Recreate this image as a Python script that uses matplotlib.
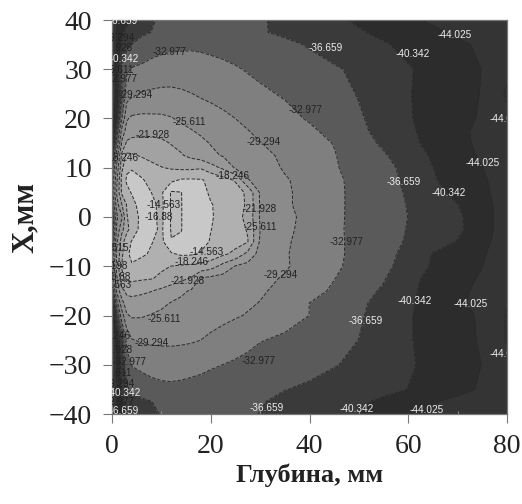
import matplotlib
matplotlib.use("Agg")
import matplotlib.pyplot as plt
import numpy as np

depth = [0,1,2,3,4,6,8,10,12,14,16,18,20,22.5,25,27.5,30,35,40,45,50,55,60,65,70,75,80]
pos = [40,37.5,35,30,25,20,17.5,15,12.5,10,7.5,5,2.5,0,-2.5,-5,-7.5,-10,-12.5,-15,-17.5,-20,-25,-30,-35,-37.5,-40]
temps = [
[-46,-44,-42,-41,-40,-38,-37,-36.2,-35.8,-35.5,-35.3,-35.2,-35.2,-35.3,-35.6,-36,-36.3,-37.5,-38.6,-39.6,-40.9,-42,-43.2,-44.6,-45.5,-46.3,-47],
[-46,-44,-41,-39.5,-38.5,-37.3,-36.6,-35.8,-35.2,-34.8,-34.6,-34.5,-34.6,-34.9,-35.3,-35.9,-36.4,-37.2,-38.2,-39.1,-40,-41.1,-42.2,-43.4,-44.6,-45.8,-46.7],
[-46,-44,-40,-37.5,-36.6,-35.4,-34.5,-34,-33.7,-33.6,-33.5,-33.6,-33.8,-34,-34.4,-34.8,-35.2,-36,-36.9,-38.1,-39.1,-40,-41.2,-42.4,-43.4,-44.6,-46],
[-47,-42,-36,-33.5,-32.7,-32.3,-31.8,-31.5,-31.3,-31.3,-31.4,-31.6,-31.9,-32.3,-32.7,-33.2,-33.7,-34.7,-35.6,-36.3,-37.3,-38.7,-40.1,-41.3,-42.6,-44.1,-46.7],
[-47,-43,-37,-31,-30,-29,-28.7,-28.5,-28.5,-28.8,-29.2,-29.7,-30.2,-30.9,-31.4,-31.9,-32.4,-33.3,-34.2,-35.2,-36.9,-38.5,-40.2,-41.3,-42.7,-44.2,-48.3],
[-46,-41,-33,-26,-25,-24.8,-24.9,-25,-25.4,-26.2,-27,-27.4,-27.7,-28.4,-29.3,-30.1,-30.9,-32,-33.3,-35,-36.2,-38.2,-40.1,-41.4,-43,-44.4,-47],
[-45,-38,-28,-24.2,-23.4,-23,-23,-23.2,-23.8,-24.6,-25.4,-26.2,-27,-27.9,-28.6,-29.2,-30,-31.2,-32.4,-34,-35.9,-37.8,-39.7,-41.7,-43.1,-45,-47],
[-44,-35,-25,-21.3,-20.8,-20.6,-20.7,-21.2,-22.1,-23,-23.8,-24.8,-25.8,-26.8,-27.7,-28.4,-29.2,-30.4,-31.8,-33.1,-35.2,-37.2,-39.3,-41.5,-43.1,-44.8,-46.5],
[-40,-31,-21,-17.5,-17.8,-18.6,-19.2,-20,-20.8,-21.6,-22.8,-23.8,-24.8,-25.9,-26.8,-27.6,-28.4,-29.9,-31.2,-32.8,-34.6,-36.3,-38.4,-40.8,-42.7,-44.5,-46.3],
[-38,-28,-19,-15.2,-14.8,-16,-17.4,-18.1,-18.6,-19,-19,-18.6,-20.5,-22.6,-26,-27,-27.8,-29.6,-31,-32.7,-34.1,-35.8,-37.5,-40.3,-42.3,-44,-46],
[-36,-26,-17,-14,-13.6,-14.2,-15.6,-16.2,-15.4,-14.2,-14.1,-14.3,-15.2,-16.8,-18.6,-25.4,-26.8,-29,-30.4,-32.3,-34,-35.6,-37.3,-40,-42,-43.6,-45.6],
[-35,-25,-17.5,-15.5,-14.3,-13,-14.6,-15.2,-10.5,-10.8,-12.5,-13.6,-15,-16,-16.6,-19,-26,-28.8,-30.4,-32.2,-34,-35.4,-37,-39.3,-41.3,-43.4,-45.5],
[-37,-27,-22,-18,-15.8,-13,-13.7,-15.5,-10.5,-10.8,-12,-13,-14.4,-15.4,-16.6,-18.8,-26,-28.8,-30.4,-32.2,-34,-35.3,-36.8,-38.8,-40.3,-42.9,-45.5],
[-40,-30,-26,-18.5,-16.6,-13.6,-13.6,-15.5,-10.5,-10.8,-12,-13,-14.3,-15.5,-17,-19.2,-26,-28.3,-30.4,-32.3,-33.9,-35.3,-36.7,-38.2,-39.7,-42.5,-46],
[-40,-28,-23,-19.5,-16.5,-13.5,-13.6,-15.2,-10.6,-10.8,-12,-13.2,-14.5,-15.5,-16.8,-18.5,-25.6,-28.5,-30.5,-32.3,-34,-35.4,-36.8,-38.4,-39.6,-42.6,-45.7],
[-38,-26,-20,-15.6,-14.4,-13.4,-14.4,-15.5,-11,-11.2,-12.3,-13.4,-14.8,-15.8,-16.9,-18.1,-26.1,-28.8,-30.7,-32.3,-33.9,-35.4,-37,-38.9,-40.5,-43.2,-45.7],
[-36,-25,-19,-15,-14,-14,-15,-16,-15,-14,-14.1,-14.9,-15.8,-17.6,-19.2,-23,-27,-29,-30.7,-32.3,-33.9,-35.6,-37.6,-40.5,-42.4,-43.7,-45.8],
[-34,-24,-18,-15,-14.8,-16,-17,-17.7,-18.3,-18.7,-19,-19.3,-20.4,-23.2,-25.8,-26.8,-27.7,-28.9,-30.8,-32.4,-34.1,-35.9,-37.9,-40.8,-42.6,-44,-45.9],
[-36,-26,-19,-17.2,-17.4,-17.8,-18.1,-18.9,-20,-21.1,-22.2,-26,-26.6,-27,-27.4,-27.9,-28.4,-29.6,-31.3,-32.9,-34.6,-36.4,-39.4,-41.3,-43,-44.4,-46.1],
[-40,-28,-23,-21,-20.8,-21.2,-21.8,-22.7,-23.8,-25,-25.9,-26.3,-26.8,-27.3,-27.9,-28.4,-28.9,-30.2,-32,-33.4,-35.4,-37.1,-39.6,-41.6,-43.2,-44.9,-46.6],
[-44,-34,-27,-23.6,-23.2,-23.6,-24.2,-24.9,-25.8,-26.3,-26.8,-27.3,-27.7,-28,-28.4,-28.9,-29.4,-31.2,-33,-34.5,-36,-37.8,-39.8,-41.7,-43.3,-45.2,-47.4],
[-46,-38,-31,-26,-25.2,-25.3,-25.8,-26.3,-26.8,-27.2,-27.6,-28,-28.2,-28.6,-29,-29.5,-30.2,-31.6,-33,-34.5,-36.2,-38.2,-40.1,-41.4,-43,-44.5,-48],
[-47,-43,-38,-32,-29.5,-28.9,-28.7,-28.6,-28.6,-28.7,-28.9,-29.3,-29.8,-30.4,-31.2,-32,-32.8,-33.6,-34.5,-35.5,-36.7,-38.4,-40.1,-41.4,-42.9,-44.4,-48],
[-47,-44,-39,-34.5,-32.8,-32.1,-31.7,-31.5,-31.4,-31.6,-31.9,-32.2,-32.6,-33,-33.5,-34,-34.6,-35.4,-36,-36.5,-37.3,-38.7,-40,-41.1,-42.6,-44.1,-46.8],
[-47,-44,-40,-37.2,-36,-35,-34.2,-33.8,-33.7,-33.8,-34,-34.2,-34.5,-34.9,-35.3,-35.7,-36.1,-36.6,-37,-37.9,-38.7,-39.6,-40.4,-41.6,-43,-44.5,-46],
[-46,-44,-41,-39.5,-38.5,-37.4,-36.7,-36,-35.6,-35.4,-35.3,-35.4,-35.5,-35.7,-35.9,-36.2,-36.5,-37.2,-38,-39.1,-39.9,-40.9,-42.2,-43.8,-45,-45.8,-46.5],
[-46,-44.5,-42.5,-41,-40,-38.3,-37.2,-36.5,-36.2,-36,-35.8,-35.8,-35.9,-36.1,-36.3,-36.5,-36.7,-37.8,-38.8,-39.6,-40.3,-41.5,-42.9,-44.3,-45.2,-46,-46.8],
]
levels = [-60,-47.708,-44.025,-40.342,-36.659,-32.977,-29.294,-25.611,-21.928,-18.246,-14.563,-10.88,-7.198]
fills = ['#303030','#343434','#2c2c2c','#3a3a3a','#5a5a5a','#7f7f7f','#8b8b8b','#979797','#a2a2a2','#b0b0b0','#c8c8c8','#bcbcbc']

dark_labels = [
('-32.977',11.7,33.5),('-29.294',4.7,24.8),('-25.611',15.6,19.3),('-21.928',8.3,16.6),('-32.977',39.3,21.7),
('-29.294',30.8,15.2),('-18.246',24.5,8.3),('-18.246',1.9,12),('-14.563',10.4,2.4),('-16.88',9.5,0),
('-21.928',29.8,1.6),('-25.611',30,-2),('-14.563',19.2,-7.1),('-18.246',16.2,-9.1),('-21.928',15.4,-13),
('-29.294',34.2,-11.8),('-25.611',10.5,-20.7),('-29.294',8.1,-25.6),('-32.977',29.6,-29.2),('-32.977',3.6,-29.4),
('-32.977',47.6,-5.1),('-29.294',1.1,36.3),('-21.928',0.7,34.3),('-25.611',1.1,29.8),('-32.977',1.7,28),
('-3.515',0.5,-6.3),('-7.198',0.3,-10),('-10.88',1,-12.2),('-14.563',0.5,-13.8),('-18.246',0.3,-24.2),
('-21.928',0.7,-27),('-25.611',0.7,-31.7),('-29.294',1.1,-34),('-32.977',1.1,-37.6),
]
light_labels = [
('-36.659',31.4,-38.8),('-40.342',2.3,-35.7),('-36.659',1.9,-39.4),('-40.342',1.9,32.1),('-36.659',1.7,39.8),
('-44.025',69.4,37),('-36.659',43.3,34.3),('-40.342',60.9,33.1),('-44.025',79.9,19.9),('-44.025',75.1,11),
('-36.659',59.1,7.1),('-40.342',68.2,4.9),('-40.342',61.3,-17.1),('-44.025',72.7,-17.7),('-36.659',51.4,-21.1),
('-44.025',80,-27.8),('-40.342',49.6,-39),('-44.025',63.8,-39.2),
]

fig = plt.figure(figsize=(5.22,5.04),dpi=100)
ax = fig.add_axes([112/522,(504-414)/504,(507-112)/522,(414-20)/504])
Z = np.array(temps)
ax.contourf(depth,pos,Z,levels=levels,colors=fills)
ax.contour(depth,pos,Z,levels=levels[1:],colors='#2a2a2a',linewidths=0.7)
ax.set_xlim(0,80); ax.set_ylim(-40,40)
ax.set_xticks(range(0,81,20)); ax.set_yticks(range(-40,41,10))
ax.set_xticks(range(10,80,20),minor=True)
ax.tick_params(axis='both',which='major',length=6.5,width=0.8,color='#777777',labelcolor='#222222',pad=8,labelsize=20)
ax.tick_params(axis='x',which='minor',length=2,width=0.6,color='#999999',direction='in')
for t in ax.get_xticklabels()+ax.get_yticklabels():
    t.set_fontfamily('Liberation Serif')
for s in ax.spines.values():
    s.set_color('#777777'); s.set_linewidth(0.9)
for txt,x,y in dark_labels:
    ax.text(x,y,txt,color='#222222',fontsize=7.2,family='Liberation Sans',ha='center',va='center',clip_on=True)
for txt,x,y in light_labels:
    ax.text(x,y,txt,color='#eeeeee',fontsize=7.2,family='Liberation Sans',ha='center',va='center',clip_on=True)
ax.set_xlabel('Глубина, мм',family='Liberation Serif',fontweight='bold',fontsize=19,color='#222222',labelpad=3)
ax.set_ylabel('X,мм',family='Liberation Serif',fontweight='bold',fontsize=22,color='#222222',labelpad=6)
fig.savefig('out.png',dpi=100)
